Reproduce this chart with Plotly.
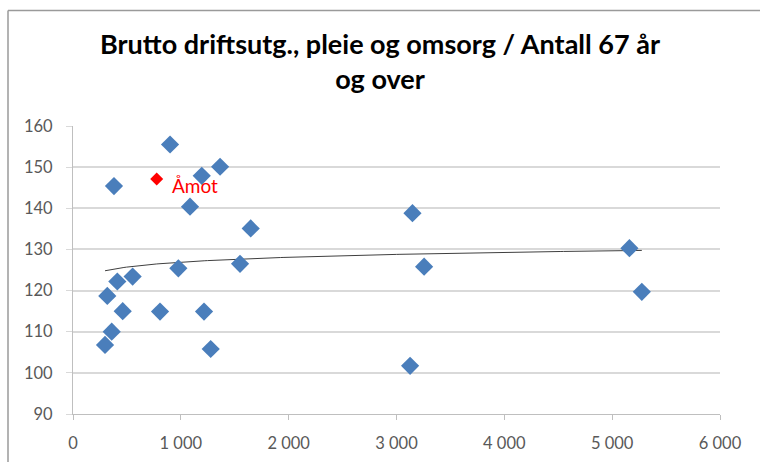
import numpy as np
import plotly.graph_objects as go

# Data
x_vals = [297, 359, 318, 411, 461, 553, 380, 807, 900, 977, 1085, 1194, 1215, 1277, 1364,
          1549, 1648, 3148, 3256, 3126, 5160, 5275]
y_vals = [106.8, 110.0, 118.7, 122.2, 115.0, 123.4, 145.4, 114.9, 155.5, 125.4, 140.4, 147.9,
          114.9, 105.8, 150.1, 126.5, 135.1, 138.8, 125.8, 101.7, 130.3, 119.7]
amot_x = [776]
amot_y = [147.1]
amot_label = "Åmot"
title_text = "Brutto driftsutg., pleie og omsorg / Antall 67 år<br>og over"
x_ticks = [0, 1000, 2000, 3000, 4000, 5000, 6000]
x_ticktext = ["0", "1 000", "2 000", "3 000", "4 000", "5 000", "6 000"]
y_ticks = [90, 100, 110, 120, 130, 140, 150, 160]

# Logarithmic trendline fitted on all points
all_x = np.array(x_vals + amot_x, dtype=float)
all_y = np.array(y_vals + amot_y, dtype=float)
b, a = np.polyfit(np.log(all_x), all_y, 1)
tx = np.linspace(all_x.min(), all_x.max(), 200)
ty = a + b * np.log(tx)

fig = go.Figure()
fig.add_trace(go.Scatter(x=tx, y=ty, mode="lines",
                         line=dict(color="#3f3f3f", width=1), hoverinfo="skip"))
fig.add_trace(go.Scatter(x=x_vals, y=y_vals, mode="markers",
                         marker=dict(symbol="diamond", size=14, color="#4a7ebb",
                                     line=dict(width=0))))
fig.add_trace(go.Scatter(x=amot_x, y=amot_y, mode="markers",
                         marker=dict(symbol="diamond", size=10, color="#ff0000",
                                     line=dict(width=0))))
fig.add_annotation(x=amot_x[0], y=amot_y[0], text=amot_label, showarrow=False,
                   xanchor="left", yanchor="middle", xshift=13, yshift=-6,
                   font=dict(family="Lato", size=19, color="#ff0000"))

W, H = 760, 462
L, R, T, B = 73, 40, 126, 48
pw, ph = W - L - R, H - T - B

def px(xp):
    return (xp - L) / pw

def py(yp):
    return (H - B - yp) / ph

# chart border (top and left visible)
fig.add_shape(type="line", xref="paper", yref="paper", x0=px(8), x1=px(762),
              y0=py(10.5), y1=py(10.5), line=dict(color="#9a9a9a", width=1.5))
fig.add_shape(type="line", xref="paper", yref="paper", x0=px(8), x1=px(8),
              y0=py(10.5), y1=py(470), line=dict(color="#9a9a9a", width=1.5))

fig.update_layout(
    width=W, height=H,
    margin=dict(l=L, r=R, t=T, b=B),
    paper_bgcolor="white", plot_bgcolor="white",
    showlegend=False,
    title=dict(text="<b>" + title_text + "</b>", x=(380 / W), xanchor="center",
               y=1 - 54 / H, yanchor="top",
               font=dict(family="Lato", size=27, color="#000000")),
    xaxis=dict(range=[0, 6000], tickvals=x_ticks, ticktext=x_ticktext,
               showgrid=False, zeroline=False, showline=True, linecolor="#bfbfbf",
               linewidth=1, ticks="outside", ticklen=5, tickcolor="#bfbfbf",
               ticklabelstandoff=9, automargin=False,
               tickfont=dict(family="Lato", size=16.5, color="#595959")),
    yaxis=dict(range=[90, 160], tickvals=y_ticks, showgrid=True, gridcolor="#d9d9d9",
               gridwidth=1.5, zeroline=False, showline=True, linecolor="#bfbfbf",
               linewidth=1, ticks="outside", ticklen=6, tickcolor="#d9d9d9",
               ticklabelstandoff=10, automargin=False,
               tickfont=dict(family="Lato", size=16.5, color="#595959")),
)

fig.write_html("out.html")
